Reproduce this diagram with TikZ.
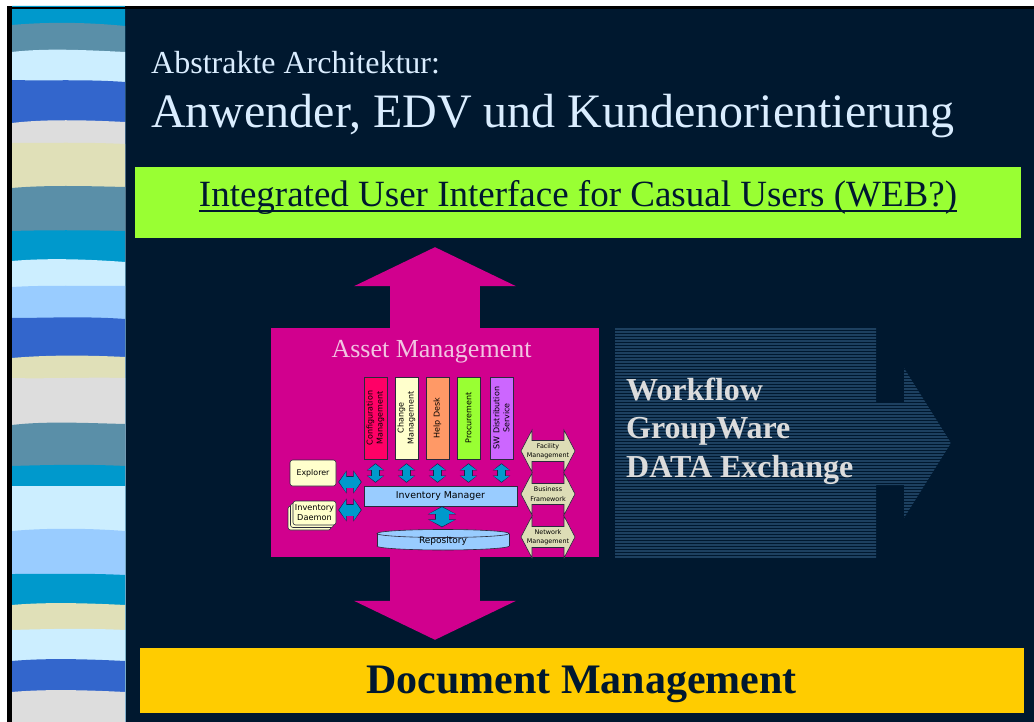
\documentclass[tikz,border=0pt]{standalone}
\usepackage{fontspec}
\setmainfont{Liberation Serif}
\newfontfamily\labelsans{DejaVu Sans}
\usetikzlibrary{arrows.meta,calc,shadows}

\definecolor{navy}{HTML}{00182F}
\definecolor{stripecyan}{HTML}{0099CC}
\definecolor{stripeteal}{HTML}{5A8FA8}
\definecolor{stripeice}{HTML}{CCEEFF}
\definecolor{stripeblue}{HTML}{3366CC}
\definecolor{stripegrey}{HTML}{DDDDDD}
\definecolor{stripesand}{HTML}{E0E0B8}
\definecolor{stripesky}{HTML}{99CCFF}
\definecolor{uigreen}{HTML}{99FF33}
\definecolor{docyellow}{HTML}{FFCC00}
\definecolor{assetmag}{HTML}{D1008E}
\definecolor{assetpink}{HTML}{F2C4E2}
\definecolor{titleice}{HTML}{DAEDFF}
\definecolor{wfband}{HTML}{1D4060}
\definecolor{wftext}{HTML}{DCDCDC}
\definecolor{edgedark}{HTML}{2A2A3C}
\definecolor{linkcyan}{HTML}{0099CC}
\definecolor{linkedge}{HTML}{10284A}
\definecolor{cfgred}{HTML}{FF0066}
\definecolor{chgcream}{HTML}{FFFFCC}
\definecolor{hdorange}{HTML}{FF9966}
\definecolor{procgreen}{HTML}{99FF33}
\definecolor{swviolet}{HTML}{CC66FF}
\definecolor{invblue}{HTML}{99CCFF}
\definecolor{sidesand}{HTML}{DDDDB6}

% one wavy colour band of the left decoration strip
\newcommand\band[5]{%
  \fill[#1] (12,#2) .. controls (45,#3) and (85,#4) .. (125,#5)
    -- (125,722) -- (12,722) -- cycle;}

% text with a flat underline
\newcommand\ulinetext[1]{\setbox0=\hbox{#1}\rlap{\rule[-5pt]{\wd0}{1.8pt}}\box0}

% outlined cyan block connector: dark outline first, cyan body on top
\newcommand\linkpair[3]{\draw[#1o] #2 -- #3; \draw[#1i] #2 -- #3;}

% sand-coloured two-headed block arrow with a label
\newcommand\sidearrow[3]{%
  \filldraw[fill=sidesand, draw=edgedark, line width=0.6pt]
    ($#2+(-27,0)$) -- ++(11,-21) -- ++(0,10.5) -- ++(32,0) -- ++(0,-10.5)
    -- ++(11,21) -- ++(-11,21) -- ++(0,-10.5) -- ++(-32,0) -- ++(0,10.5) -- cycle;
  \node[sidetext] (#1) at #2 {#3};}

\tikzset{
  smallsans/.style={font=\labelsans\fontsize{#1}{12}\selectfont},
  bar/.style={draw=edgedark, line width=0.6pt, minimum width=23, minimum height=82, inner sep=0},
  barlabel/.style={rotate=90, align=center, inner sep=0, text=black,
    font=\labelsans\fontsize{8}{10}\selectfont},
  softbox/.style={fill=chgcream, draw=edgedark, line width=0.6pt, rounded corners=2.5pt,
    inner sep=0, text=black},
  sidetext/.style={align=center, inner sep=0, text=black,
    font=\labelsans\fontsize{6.4}{9.5}\selectfont},
  bigarrow/.style={draw=assetmag, line width=90pt,
    -{Triangle[width=162pt,length=39pt,line width=0pt]}},
  vlo/.style={draw=linkedge, line width=8.4pt,
    {Triangle[width=17.2pt,length=7pt,line width=0pt]}-{Triangle[width=17.2pt,length=7pt,line width=0pt]}},
  vli/.style={draw=linkcyan, line width=7pt, shorten <=0.9pt, shorten >=0.9pt,
    {Triangle[width=15pt,length=5.6pt,line width=0pt]}-{Triangle[width=15pt,length=5.6pt,line width=0pt]}},
  hlo/.style={draw=linkedge, line width=12.4pt,
    {Triangle[width=23.2pt,length=8.4pt,line width=0pt]}-{Triangle[width=23.2pt,length=8.4pt,line width=0pt]}},
  hli/.style={draw=linkcyan, line width=11pt, shorten <=0.9pt, shorten >=0.9pt,
    {Triangle[width=21pt,length=7pt,line width=0pt]}-{Triangle[width=21pt,length=7pt,line width=0pt]}},
  rlo/.style={draw=linkedge, line width=14.4pt,
    {Triangle[width=28.2pt,length=8pt,line width=0pt]}-{Triangle[width=28.2pt,length=8pt,line width=0pt]}},
  rli/.style={draw=linkcyan, line width=13pt, shorten <=0.9pt, shorten >=0.9pt,
    {Triangle[width=26pt,length=6.6pt,line width=0pt]}-{Triangle[width=26pt,length=6.6pt,line width=0pt]}},
}

\begin{document}
\begin{tikzpicture}[x=1pt,y=-1pt]
\useasboundingbox (0,0) rectangle (1034,722);
\fill[white] (0,0) rectangle (1034,722);
\fill[navy] (7,6) rectangle (1034,722);

% left decoration strip
\band{stripecyan}{6}{6}{6}{6}
\band{stripeteal}{25}{22}{22}{26}
\band{stripeice}{52}{48}{50}{52}
\band{stripeblue}{80}{81}{79}{82}
\band{stripegrey}{123}{119}{120}{122}
\band{stripesand}{143}{143}{142}{144}
\band{stripeteal}{188}{185}{186}{187}
\band{stripecyan}{231}{230}{230}{231}
\band{stripeice}{261}{258}{259}{262}
\band{stripesky}{287}{285}{286}{286}
\band{stripeblue}{318}{318}{316}{319}
\band{stripesand}{358}{355}{355}{357}
\band{stripegrey}{378}{379}{377}{378}
\band{stripeteal}{425}{421}{423}{424}
\band{stripecyan}{466}{465}{464}{466}
\band{stripeice}{486}{486}{486}{486}
\band{stripesky}{531}{528}{528}{531}
\band{stripecyan}{574}{574}{573}{575}
\band{stripesand}{605}{602}{603}{605}
\band{stripeice}{630}{629}{628}{630}
\band{stripeblue}{661}{658}{659}{661}
\band{stripegrey}{692}{689}{690}{692}
\fill[black] (7,6) rectangle (12,722);
\fill[black] (7,6) rectangle (1034,9.3);
\fill[stripecyan] (12,6) rectangle (125,7.2);

% headings
\node[anchor=base west, inner sep=0, text=titleice, font=\fontsize{32}{38}\selectfont]
  (subtitle) at (151,74) {Abstrakte Architektur:};
\node[anchor=base west, inner sep=0, text=titleice, font=\fontsize{48}{56}\selectfont]
  (title) at (151,128) {Anwender, EDV und Kundenorientierung};

% user interface layer
\node[fill=uigreen, minimum width=886, minimum height=71, inner sep=0] (ui) at (578,202.5) {};
\node[anchor=base, inner sep=0, text=navy, font=\fontsize{37}{44}\selectfont]
  (uitext) at (578,207) {\ulinetext{Integrated User Interface for Casual Users (WEB?)}};

% document management layer
\node[fill=docyellow, minimum width=884, minimum height=65, inner sep=0] (dm) at (582,680.5) {};
\node[anchor=base, inner sep=0, text=navy, font=\bfseries\fontsize{42}{50}\selectfont]
  (dmtext) at (581.5,693) {Document Management};

% asset management block and its links up and down
\node[fill=assetmag, minimum width=328, minimum height=229, inner sep=0] (am) at (435,442.5) {};
\draw[bigarrow] (am.north) -- ($(am.north |- ui.south)+(0,9)$);
\draw[bigarrow] (am.south) -- ($(am.south |- dm.north)+(0,-8)$);
\node[anchor=base, inner sep=0, text=assetpink, font=\fontsize{26}{30}\selectfont]
  (amtitle) at (431.5,357) {Asset Management};

% striped arrow towards workflow / groupware
\begin{scope}
  \clip (615,328) -- (876,328) -- (876,403) -- (904,403) -- (904,368) -- (951,443)
    -- (904,518) -- (904,485) -- (876,485) -- (876,558) -- (615,558) -- cycle;
  \foreach \yy in {328,331,...,558} {\fill[wfband] (615,\yy) rectangle (951,\yy+2);}
\end{scope}
\node[anchor=base west, inner sep=0, text=wftext, font=\bfseries\fontsize{32}{38}\selectfont]
  (wf1) at (626,400) {Workflow};
\node[anchor=base west, inner sep=0, text=wftext, font=\bfseries\fontsize{32}{38}\selectfont]
  (wf2) at (626,438) {GroupWare};
\node[anchor=base west, inner sep=0, text=wftext, font=\bfseries\fontsize{32}{38}\selectfont]
  (wf3) at (626,477) {DATA Exchange};

% application modules
\node[bar, fill=cfgred, label={[barlabel]center:Configuration\\Management}] (cfg) at (375.5,418) {};
\node[bar, fill=chgcream, label={[barlabel]center:Change\\Management}] (chg) at (406.5,418) {};
\node[bar, fill=hdorange, label={[barlabel]center:Help Desk}] (hd) at (437.5,418) {};
\node[bar, fill=procgreen, label={[barlabel]center:Procurement}] (proc) at (468.5,418) {};
\node[bar, fill=swviolet, label={[barlabel]center:SW Distribution\\Service}] (swd) at (501.5,418) {};

% inventory core
\node[fill=invblue, draw=edgedark, line width=0.6pt, minimum width=153, minimum height=20,
  inner sep=0, text=black, smallsans=9.4] (inv) at (440.5,496) {Inventory Manager};

% repository cylinder
\filldraw[fill=invblue, draw=edgedark, line width=0.6pt] (443,546) ellipse [x radius=66, y radius=4];
\fill[invblue] (377,533.5) rectangle (509,546);
\draw[edgedark, line width=0.6pt] (377,533.5) -- (377,546) (509,533.5) -- (509,546);
\filldraw[fill=invblue, draw=edgedark, line width=0.6pt] (443,533.5) ellipse [x radius=66, y radius=4];
\node[minimum width=132, minimum height=21, inner sep=0, text=black, smallsans=9]
  (repo) at (443,541) {Repository};

% clients on the left
\node[softbox, minimum width=46, minimum height=26, smallsans=7.9] (expl) at (313,473) {Explorer};
\node[softbox, minimum width=43, minimum height=24, align=center,
  font=\labelsans\fontsize{8.2}{10}\selectfont,
  double copy shadow={shadow xshift=-2.5pt, shadow yshift=-2.5pt}] (daemon) at (314.5,513) {Inventory\\Daemon};

% frameworks on the right
\sidearrow{fac}{(548,451)}{Facility\\Management}
\sidearrow{biz}{(548,494)}{Business\\Framework}
\sidearrow{net}{(548,537)}{Network\\Management}

% connectors
\foreach \m in {cfg,chg,hd,proc,swd} {
  \linkpair{vl}{($(\m.south)+(0,4)$)}{($(\m.south |- inv.north)+(0,-3)$)}
}
\linkpair{hl}{($(expl.east)+(2,9)$)}{($(expl.east -| inv.west)+(-2,9)$)}
\linkpair{hl}{($(daemon.east)+(2,-3)$)}{($(daemon.east -| inv.west)+(-2,-3)$)}
\linkpair{rl}{($(inv.south)+(1.5,0)$)}{($(inv.south)+(1.5,21)$)}
\end{tikzpicture}
\end{document}
